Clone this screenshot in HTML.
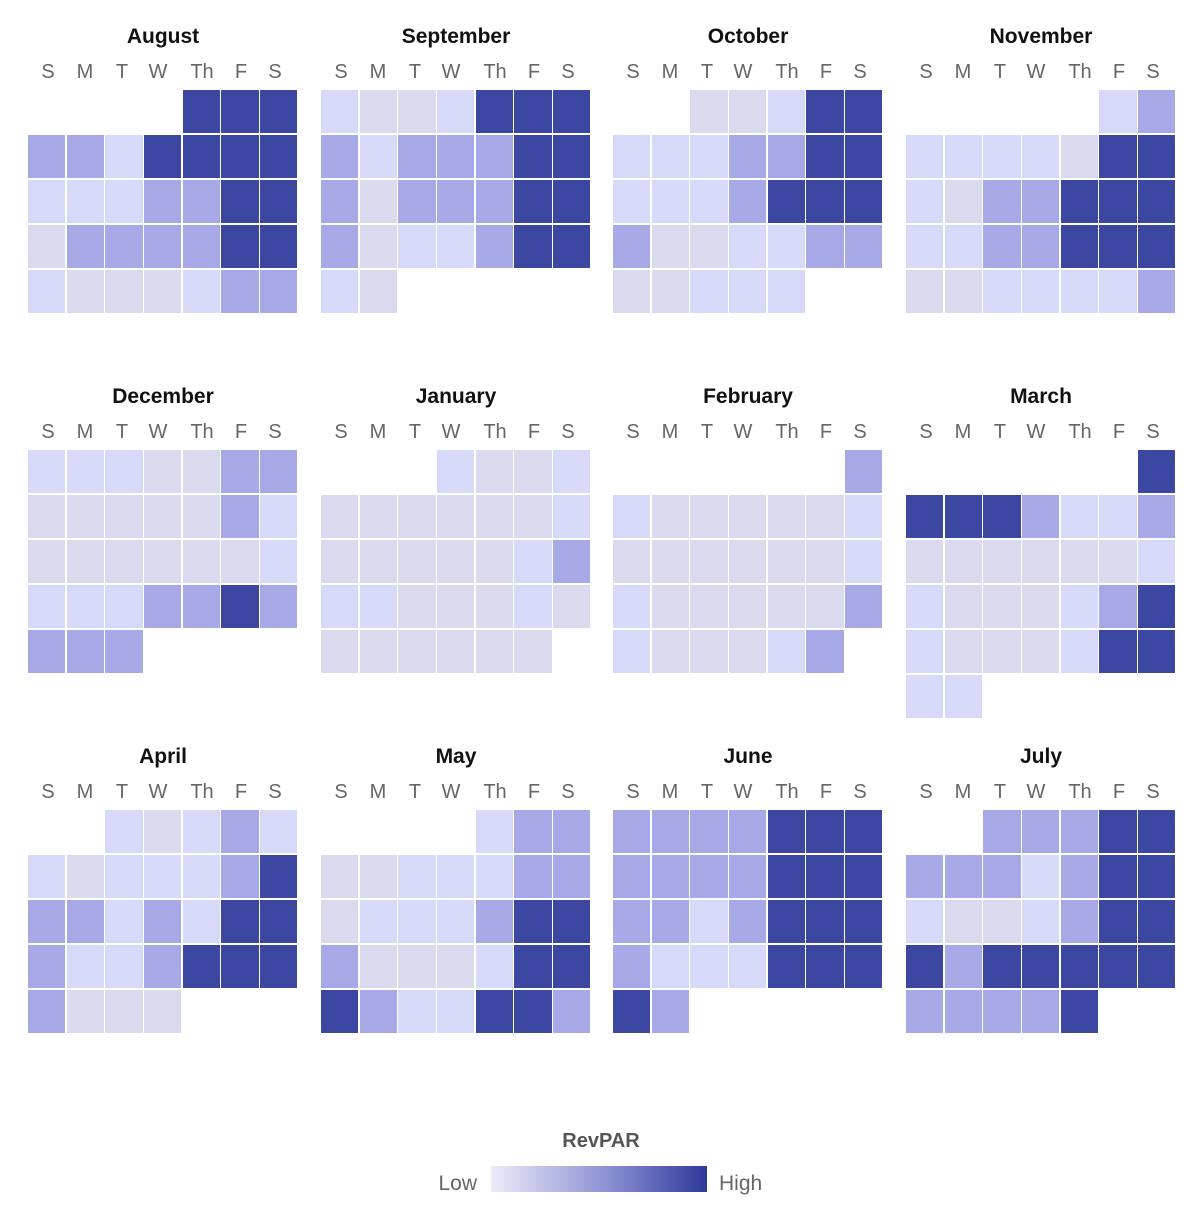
<!DOCTYPE html>
<html><head><meta charset="utf-8">
<style>
html,body{margin:0;padding:0;background:#fff;}
body{width:1200px;height:1215px;position:relative;overflow:hidden;font-family:"Liberation Sans",sans-serif;}
.t{position:absolute;width:270px;text-align:center;font-size:21px;font-weight:bold;color:#111;line-height:21px;}
.dl{position:absolute;width:40px;text-align:center;font-size:20px;color:#666;line-height:20px;}
.g{position:absolute;display:grid;grid-template-columns:repeat(7,37.2px);column-gap:1.5px;row-gap:2px;grid-auto-rows:43px;}
.g i{display:block;}
.a{background:#dadaef;}
.b{background:#d7d9f8;}
.c{background:#a6a9e6;}
.d{background:#3b47a1;}
.lg{position:absolute;font-size:21px;color:#666;line-height:21px;}
</style></head><body>

<!-- Titles -->
<div class="t" style="left:28px;top:26px">August</div>
<div class="t" style="left:321px;top:26px">September</div>
<div class="t" style="left:613px;top:26px">October</div>
<div class="t" style="left:906px;top:26px">November</div>
<div class="t" style="left:28px;top:386px">December</div>
<div class="t" style="left:321px;top:386px">January</div>
<div class="t" style="left:613px;top:386px">February</div>
<div class="t" style="left:906px;top:386px">March</div>
<div class="t" style="left:28px;top:746px">April</div>
<div class="t" style="left:321px;top:746px">May</div>
<div class="t" style="left:613px;top:746px">June</div>
<div class="t" style="left:906px;top:746px">July</div>

<!-- Day labels row 1 -->
<div class="dl" style="left:28px;top:62px">S</div><div class="dl" style="left:65px;top:62px">M</div><div class="dl" style="left:102px;top:62px">T</div><div class="dl" style="left:138px;top:62px">W</div><div class="dl" style="left:182px;top:62px">Th</div><div class="dl" style="left:221px;top:62px">F</div><div class="dl" style="left:255px;top:62px">S</div>
<div class="dl" style="left:321px;top:62px">S</div><div class="dl" style="left:358px;top:62px">M</div><div class="dl" style="left:395px;top:62px">T</div><div class="dl" style="left:431px;top:62px">W</div><div class="dl" style="left:475px;top:62px">Th</div><div class="dl" style="left:514px;top:62px">F</div><div class="dl" style="left:548px;top:62px">S</div>
<div class="dl" style="left:613px;top:62px">S</div><div class="dl" style="left:650px;top:62px">M</div><div class="dl" style="left:687px;top:62px">T</div><div class="dl" style="left:723px;top:62px">W</div><div class="dl" style="left:767px;top:62px">Th</div><div class="dl" style="left:806px;top:62px">F</div><div class="dl" style="left:840px;top:62px">S</div>
<div class="dl" style="left:906px;top:62px">S</div><div class="dl" style="left:943px;top:62px">M</div><div class="dl" style="left:980px;top:62px">T</div><div class="dl" style="left:1016px;top:62px">W</div><div class="dl" style="left:1060px;top:62px">Th</div><div class="dl" style="left:1099px;top:62px">F</div><div class="dl" style="left:1133px;top:62px">S</div>
<!-- Day labels row 2 -->
<div class="dl" style="left:28px;top:422px">S</div><div class="dl" style="left:65px;top:422px">M</div><div class="dl" style="left:102px;top:422px">T</div><div class="dl" style="left:138px;top:422px">W</div><div class="dl" style="left:182px;top:422px">Th</div><div class="dl" style="left:221px;top:422px">F</div><div class="dl" style="left:255px;top:422px">S</div>
<div class="dl" style="left:321px;top:422px">S</div><div class="dl" style="left:358px;top:422px">M</div><div class="dl" style="left:395px;top:422px">T</div><div class="dl" style="left:431px;top:422px">W</div><div class="dl" style="left:475px;top:422px">Th</div><div class="dl" style="left:514px;top:422px">F</div><div class="dl" style="left:548px;top:422px">S</div>
<div class="dl" style="left:613px;top:422px">S</div><div class="dl" style="left:650px;top:422px">M</div><div class="dl" style="left:687px;top:422px">T</div><div class="dl" style="left:723px;top:422px">W</div><div class="dl" style="left:767px;top:422px">Th</div><div class="dl" style="left:806px;top:422px">F</div><div class="dl" style="left:840px;top:422px">S</div>
<div class="dl" style="left:906px;top:422px">S</div><div class="dl" style="left:943px;top:422px">M</div><div class="dl" style="left:980px;top:422px">T</div><div class="dl" style="left:1016px;top:422px">W</div><div class="dl" style="left:1060px;top:422px">Th</div><div class="dl" style="left:1099px;top:422px">F</div><div class="dl" style="left:1133px;top:422px">S</div>
<!-- Day labels row 3 -->
<div class="dl" style="left:28px;top:782px">S</div><div class="dl" style="left:65px;top:782px">M</div><div class="dl" style="left:102px;top:782px">T</div><div class="dl" style="left:138px;top:782px">W</div><div class="dl" style="left:182px;top:782px">Th</div><div class="dl" style="left:221px;top:782px">F</div><div class="dl" style="left:255px;top:782px">S</div>
<div class="dl" style="left:321px;top:782px">S</div><div class="dl" style="left:358px;top:782px">M</div><div class="dl" style="left:395px;top:782px">T</div><div class="dl" style="left:431px;top:782px">W</div><div class="dl" style="left:475px;top:782px">Th</div><div class="dl" style="left:514px;top:782px">F</div><div class="dl" style="left:548px;top:782px">S</div>
<div class="dl" style="left:613px;top:782px">S</div><div class="dl" style="left:650px;top:782px">M</div><div class="dl" style="left:687px;top:782px">T</div><div class="dl" style="left:723px;top:782px">W</div><div class="dl" style="left:767px;top:782px">Th</div><div class="dl" style="left:806px;top:782px">F</div><div class="dl" style="left:840px;top:782px">S</div>
<div class="dl" style="left:906px;top:782px">S</div><div class="dl" style="left:943px;top:782px">M</div><div class="dl" style="left:980px;top:782px">T</div><div class="dl" style="left:1016px;top:782px">W</div><div class="dl" style="left:1060px;top:782px">Th</div><div class="dl" style="left:1099px;top:782px">F</div><div class="dl" style="left:1133px;top:782px">S</div>

<!-- August -->
<div class="g" style="left:28px;top:90px">
<i></i><i></i><i></i><i></i><i class="d"></i><i class="d"></i><i class="d"></i>
<i class="c"></i><i class="c"></i><i class="b"></i><i class="d"></i><i class="d"></i><i class="d"></i><i class="d"></i>
<i class="b"></i><i class="b"></i><i class="b"></i><i class="c"></i><i class="c"></i><i class="d"></i><i class="d"></i>
<i class="a"></i><i class="c"></i><i class="c"></i><i class="c"></i><i class="c"></i><i class="d"></i><i class="d"></i>
<i class="b"></i><i class="a"></i><i class="a"></i><i class="a"></i><i class="b"></i><i class="c"></i><i class="c"></i>
</div>
<!-- September -->
<div class="g" style="left:321px;top:90px">
<i class="b"></i><i class="a"></i><i class="a"></i><i class="b"></i><i class="d"></i><i class="d"></i><i class="d"></i>
<i class="c"></i><i class="b"></i><i class="c"></i><i class="c"></i><i class="c"></i><i class="d"></i><i class="d"></i>
<i class="c"></i><i class="a"></i><i class="c"></i><i class="c"></i><i class="c"></i><i class="d"></i><i class="d"></i>
<i class="c"></i><i class="a"></i><i class="b"></i><i class="b"></i><i class="c"></i><i class="d"></i><i class="d"></i>
<i class="b"></i><i class="a"></i>
</div>
<!-- October -->
<div class="g" style="left:613px;top:90px">
<i></i><i></i><i class="a"></i><i class="a"></i><i class="b"></i><i class="d"></i><i class="d"></i>
<i class="b"></i><i class="b"></i><i class="b"></i><i class="c"></i><i class="c"></i><i class="d"></i><i class="d"></i>
<i class="b"></i><i class="b"></i><i class="b"></i><i class="c"></i><i class="d"></i><i class="d"></i><i class="d"></i>
<i class="c"></i><i class="a"></i><i class="a"></i><i class="b"></i><i class="b"></i><i class="c"></i><i class="c"></i>
<i class="a"></i><i class="a"></i><i class="b"></i><i class="b"></i><i class="b"></i>
</div>
<!-- November -->
<div class="g" style="left:906px;top:90px">
<i></i><i></i><i></i><i></i><i></i><i class="b"></i><i class="c"></i>
<i class="b"></i><i class="b"></i><i class="b"></i><i class="b"></i><i class="a"></i><i class="d"></i><i class="d"></i>
<i class="b"></i><i class="a"></i><i class="c"></i><i class="c"></i><i class="d"></i><i class="d"></i><i class="d"></i>
<i class="b"></i><i class="b"></i><i class="c"></i><i class="c"></i><i class="d"></i><i class="d"></i><i class="d"></i>
<i class="a"></i><i class="a"></i><i class="b"></i><i class="b"></i><i class="b"></i><i class="b"></i><i class="c"></i>
</div>

<!-- December -->
<div class="g" style="left:28px;top:450px">
<i class="b"></i><i class="b"></i><i class="b"></i><i class="a"></i><i class="a"></i><i class="c"></i><i class="c"></i>
<i class="a"></i><i class="a"></i><i class="a"></i><i class="a"></i><i class="a"></i><i class="c"></i><i class="b"></i>
<i class="a"></i><i class="a"></i><i class="a"></i><i class="a"></i><i class="a"></i><i class="a"></i><i class="b"></i>
<i class="b"></i><i class="b"></i><i class="b"></i><i class="c"></i><i class="c"></i><i class="d"></i><i class="c"></i>
<i class="c"></i><i class="c"></i><i class="c"></i>
</div>
<!-- January -->
<div class="g" style="left:321px;top:450px">
<i></i><i></i><i></i><i class="b"></i><i class="a"></i><i class="a"></i><i class="b"></i>
<i class="a"></i><i class="a"></i><i class="a"></i><i class="a"></i><i class="a"></i><i class="a"></i><i class="b"></i>
<i class="a"></i><i class="a"></i><i class="a"></i><i class="a"></i><i class="a"></i><i class="b"></i><i class="c"></i>
<i class="b"></i><i class="b"></i><i class="a"></i><i class="a"></i><i class="a"></i><i class="b"></i><i class="a"></i>
<i class="a"></i><i class="a"></i><i class="a"></i><i class="a"></i><i class="a"></i><i class="a"></i>
</div>
<!-- February -->
<div class="g" style="left:613px;top:450px">
<i></i><i></i><i></i><i></i><i></i><i></i><i class="c"></i>
<i class="b"></i><i class="a"></i><i class="a"></i><i class="a"></i><i class="a"></i><i class="a"></i><i class="b"></i>
<i class="a"></i><i class="a"></i><i class="a"></i><i class="a"></i><i class="a"></i><i class="a"></i><i class="b"></i>
<i class="b"></i><i class="a"></i><i class="a"></i><i class="a"></i><i class="a"></i><i class="a"></i><i class="c"></i>
<i class="b"></i><i class="a"></i><i class="a"></i><i class="a"></i><i class="b"></i><i class="c"></i>
</div>
<!-- March -->
<div class="g" style="left:906px;top:450px">
<i></i><i></i><i></i><i></i><i></i><i></i><i class="d"></i>
<i class="d"></i><i class="d"></i><i class="d"></i><i class="c"></i><i class="b"></i><i class="b"></i><i class="c"></i>
<i class="a"></i><i class="a"></i><i class="a"></i><i class="a"></i><i class="a"></i><i class="a"></i><i class="b"></i>
<i class="b"></i><i class="a"></i><i class="a"></i><i class="a"></i><i class="b"></i><i class="c"></i><i class="d"></i>
<i class="b"></i><i class="a"></i><i class="a"></i><i class="a"></i><i class="b"></i><i class="d"></i><i class="d"></i>
<i class="b"></i><i class="b"></i>
</div>

<!-- April -->
<div class="g" style="left:28px;top:810px">
<i></i><i></i><i class="b"></i><i class="a"></i><i class="b"></i><i class="c"></i><i class="b"></i>
<i class="b"></i><i class="a"></i><i class="b"></i><i class="b"></i><i class="b"></i><i class="c"></i><i class="d"></i>
<i class="c"></i><i class="c"></i><i class="b"></i><i class="c"></i><i class="b"></i><i class="d"></i><i class="d"></i>
<i class="c"></i><i class="b"></i><i class="b"></i><i class="c"></i><i class="d"></i><i class="d"></i><i class="d"></i>
<i class="c"></i><i class="a"></i><i class="a"></i><i class="a"></i>
</div>
<!-- May -->
<div class="g" style="left:321px;top:810px">
<i></i><i></i><i></i><i></i><i class="b"></i><i class="c"></i><i class="c"></i>
<i class="a"></i><i class="a"></i><i class="b"></i><i class="b"></i><i class="b"></i><i class="c"></i><i class="c"></i>
<i class="a"></i><i class="b"></i><i class="b"></i><i class="b"></i><i class="c"></i><i class="d"></i><i class="d"></i>
<i class="c"></i><i class="a"></i><i class="a"></i><i class="a"></i><i class="b"></i><i class="d"></i><i class="d"></i>
<i class="d"></i><i class="c"></i><i class="b"></i><i class="b"></i><i class="d"></i><i class="d"></i><i class="c"></i>
</div>
<!-- June -->
<div class="g" style="left:613px;top:810px">
<i class="c"></i><i class="c"></i><i class="c"></i><i class="c"></i><i class="d"></i><i class="d"></i><i class="d"></i>
<i class="c"></i><i class="c"></i><i class="c"></i><i class="c"></i><i class="d"></i><i class="d"></i><i class="d"></i>
<i class="c"></i><i class="c"></i><i class="b"></i><i class="c"></i><i class="d"></i><i class="d"></i><i class="d"></i>
<i class="c"></i><i class="b"></i><i class="b"></i><i class="b"></i><i class="d"></i><i class="d"></i><i class="d"></i>
<i class="d"></i><i class="c"></i>
</div>
<!-- July -->
<div class="g" style="left:906px;top:810px">
<i></i><i></i><i class="c"></i><i class="c"></i><i class="c"></i><i class="d"></i><i class="d"></i>
<i class="c"></i><i class="c"></i><i class="c"></i><i class="b"></i><i class="c"></i><i class="d"></i><i class="d"></i>
<i class="b"></i><i class="a"></i><i class="a"></i><i class="b"></i><i class="c"></i><i class="d"></i><i class="d"></i>
<i class="d"></i><i class="c"></i><i class="d"></i><i class="d"></i><i class="d"></i><i class="d"></i><i class="d"></i>
<i class="c"></i><i class="c"></i><i class="c"></i><i class="c"></i><i class="d"></i>
</div>

<!-- Legend -->
<div style="position:absolute;left:501px;top:1131px;width:200px;text-align:center;font-size:20px;font-weight:bold;color:#555;line-height:20px;">RevPAR</div>
<div class="lg" style="left:377px;top:1173px;width:100px;text-align:right;">Low</div>
<div style="position:absolute;left:491px;top:1166px;width:216px;height:26px;background:linear-gradient(to right,#ebebf8,#8a8fd2 55%,#2e3899);"></div>
<div class="lg" style="left:719px;top:1173px;">High</div>

</body></html>
